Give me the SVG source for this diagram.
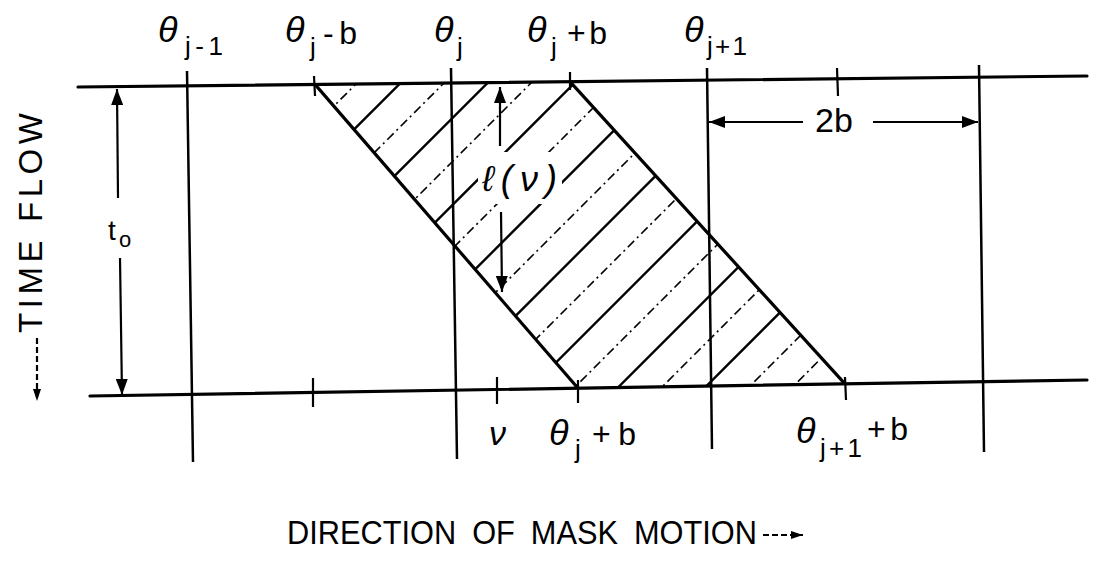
<svg xmlns="http://www.w3.org/2000/svg" width="1101" height="570" viewBox="0 0 1101 570">
<style>
  text { font-family: "Liberation Sans", "DejaVu Sans", sans-serif; fill: #000; }
  .th { font-style: italic; font-size: 36px; }
  .sub { font-size: 26px; }
  .lab { font-size: 32px; }
  .cap { font-size: 34px; }
  .rule { stroke: #000; stroke-width: 3.2; fill: none; stroke-linecap: round; }
  .vert { stroke: #000; stroke-width: 2.5; fill: none; }
  .tick { stroke: #000; stroke-width: 2.2; fill: none; }
  .edge { stroke: #000; stroke-width: 3.2; fill: none; stroke-linejoin: round; }
  .hs { stroke: #000; stroke-width: 2.4; fill: none; }
  .hd { stroke: #000; stroke-width: 1.6; fill: none; stroke-dasharray: 9 4 2 4; }
  .dim { stroke: #000; stroke-width: 2.2; fill: none; }
</style>
<defs>
  <marker id="arr" viewBox="0 0 16 12" refX="16" refY="6" markerWidth="16" markerHeight="12" orient="auto" markerUnits="userSpaceOnUse">
    <path d="M0,0 L16,6 L0,12 z" fill="#000"/>
  </marker>
  <marker id="arrs" viewBox="0 0 12 8" refX="12" refY="4" markerWidth="12" markerHeight="8" orient="auto" markerUnits="userSpaceOnUse">
    <path d="M0,0 L12,4 L0,8 z" fill="#000"/>
  </marker>
  <clipPath id="para">
    <polygon points="315,84.4 570,81.6 845,383.9 578,388.2"/>
  </clipPath>
  <mask id="lblmask">
    <rect x="0" y="0" width="1101" height="570" fill="#fff"/>
    <rect x="478" y="152" width="84" height="52" fill="#000"/>
  </mask>
</defs>

<!-- hatched region -->
<g id="hatch" clip-path="url(#para)">
  <g mask="url(#lblmask)">
    <line class="hd" x1="45" y1="395" x2="365" y2="75"/>
    <line class="hs" x1="88.5" y1="395" x2="408.5" y2="75"/>
    <line class="hd" x1="132" y1="395" x2="452" y2="75"/>
    <line class="hs" x1="175.5" y1="395" x2="495.5" y2="75"/>
    <line class="hd" x1="219" y1="395" x2="539" y2="75"/>
    <line class="hs" x1="262.5" y1="395" x2="582.5" y2="75"/>
    <line class="hd" x1="306" y1="395" x2="626" y2="75"/>
    <line class="hs" x1="349.5" y1="395" x2="669.5" y2="75"/>
    <line class="hd" x1="393" y1="395" x2="713" y2="75"/>
    <line class="hs" x1="436.5" y1="395" x2="756.5" y2="75"/>
    <line class="hd" x1="480" y1="395" x2="800" y2="75"/>
    <line class="hs" x1="523.5" y1="395" x2="843.5" y2="75"/>
    <line class="hd" x1="567" y1="395" x2="887" y2="75"/>
    <line class="hs" x1="610.5" y1="395" x2="930.5" y2="75"/>
    <line class="hd" x1="654" y1="395" x2="974" y2="75"/>
    <line class="hs" x1="697.5" y1="395" x2="1017.5" y2="75"/>
    <line class="hd" x1="741" y1="395" x2="1061" y2="75"/>
    <line class="hd" x1="784.5" y1="395" x2="1104.5" y2="75"/>
  </g>
</g>

<!-- frame lines -->
<g id="top-line"><line class="rule" x1="78" y1="87" x2="1087" y2="76"/></g>
<g id="bottom-line"><line class="rule" x1="90" y1="396" x2="1087" y2="380"/></g>

<!-- vertical grid lines -->
<g id="grid">
  <line class="vert" x1="187" y1="71" x2="193" y2="462"/>
  <line class="vert" x1="451" y1="68" x2="457" y2="459"/>
  <line class="vert" x1="707" y1="68" x2="712" y2="449"/>
  <line class="vert" x1="979" y1="65" x2="984" y2="452"/>
  <line class="tick" x1="314" y1="76" x2="315" y2="96"/>
  <line class="tick" x1="570" y1="72" x2="570" y2="90"/>
  <line class="tick" x1="837" y1="68" x2="838" y2="96"/>
  <line class="tick" x1="313" y1="378" x2="313" y2="407"/>
  <line class="tick" x1="497" y1="377" x2="497" y2="404"/>
  <line class="tick" x1="578" y1="380" x2="578" y2="403"/>
  <line class="tick" x1="845" y1="377" x2="846" y2="400"/>
</g>

<!-- parallelogram edges -->
<g id="band-edges">
  <line class="edge" x1="315" y1="84.4" x2="578" y2="388.2"/>
  <line class="edge" x1="570" y1="81.6" x2="845" y2="383.9"/>
</g>

<!-- dimension arrows -->
<g id="connectors">
  <line class="dim" x1="118" y1="198" x2="117" y2="89" marker-end="url(#arr)"/>
  <line class="dim" x1="120" y1="258" x2="122" y2="395" marker-end="url(#arr)"/>
  <line class="dim" x1="500" y1="146" x2="500" y2="87" marker-end="url(#arr)"/>
  <line class="dim" x1="501" y1="212" x2="502" y2="292" marker-end="url(#arr)"/>
  <line class="dim" x1="803" y1="122" x2="709" y2="122" marker-end="url(#arr)"/>
  <line class="dim" x1="873" y1="122" x2="978" y2="122" marker-end="url(#arr)"/>
  <line class="dim" x1="37" y1="338" x2="37" y2="401" stroke-dasharray="6 3" marker-end="url(#arrs)"/>
  <line class="dim" x1="763" y1="535" x2="803" y2="535" stroke-dasharray="6 3" marker-end="url(#arrs)"/>
</g>

<!-- top labels -->
<g id="label-theta-j-1">
  <text class="th" x="158" y="42">θ</text>
  <text class="sub" x="185" y="55" textLength="38" lengthAdjust="spacing">j-1</text>
</g>
<g id="label-theta-j-minus-b">
  <text class="th" x="285" y="42">θ</text>
  <text class="sub" x="310" y="56">j</text>
  <text class="lab" x="323" y="44" textLength="34" lengthAdjust="spacing">-b</text>
</g>
<g id="label-theta-j">
  <text class="th" x="434" y="42">θ</text>
  <text class="sub" x="457" y="56">j</text>
</g>
<g id="label-theta-j-plus-b">
  <text class="th" x="527" y="42">θ</text>
  <text class="sub" x="551" y="56">j</text>
  <text class="lab" x="567" y="44" textLength="40" lengthAdjust="spacing">+b</text>
</g>
<g id="label-theta-j+1">
  <text class="th" x="684" y="42">θ</text>
  <text class="sub" x="707" y="55" textLength="40" lengthAdjust="spacing">j+1</text>
</g>

<!-- bottom labels -->
<g id="label-nu">
  <text class="th" x="489" y="445" style="font-size:34px">ν</text>
</g>
<g id="label-theta-j-plus-b-bottom">
  <text class="th" x="549" y="445">θ</text>
  <text class="sub" x="575" y="458">j</text>
  <text class="lab" x="592" y="445" textLength="44" lengthAdjust="spacing">+b</text>
</g>
<g id="label-theta-j+1-plus-b">
  <text class="th" x="796" y="443">θ</text>
  <text class="sub" x="820" y="457" textLength="42" lengthAdjust="spacing">j+1</text>
  <text class="lab" x="867" y="440" textLength="41" lengthAdjust="spacing">+b</text>
</g>

<!-- other labels -->
<g id="label-l-nu">
  <text class="th" x="482" y="191" textLength="75" lengthAdjust="spacing">ℓ(ν)</text>
</g>
<g id="label-2b">
  <text class="cap" x="815" y="132">2b</text>
</g>
<g id="label-t0">
  <text x="108" y="240" style="font-size:28px">t</text>
  <text x="119" y="247" style="font-size:22px">o</text>
</g>
<g id="label-time-flow" transform="translate(42,333) rotate(-90)">
  <text class="cap" x="0" y="0" style="font-size:33px" textLength="220" lengthAdjust="spacing">TIME FLOW</text>
</g>
<g id="label-direction">
  <text class="cap" x="287" y="544" style="font-size:33px; word-spacing:8px" textLength="470" lengthAdjust="spacingAndGlyphs">DIRECTION OF MASK MOTION</text>
</g>
</svg>
